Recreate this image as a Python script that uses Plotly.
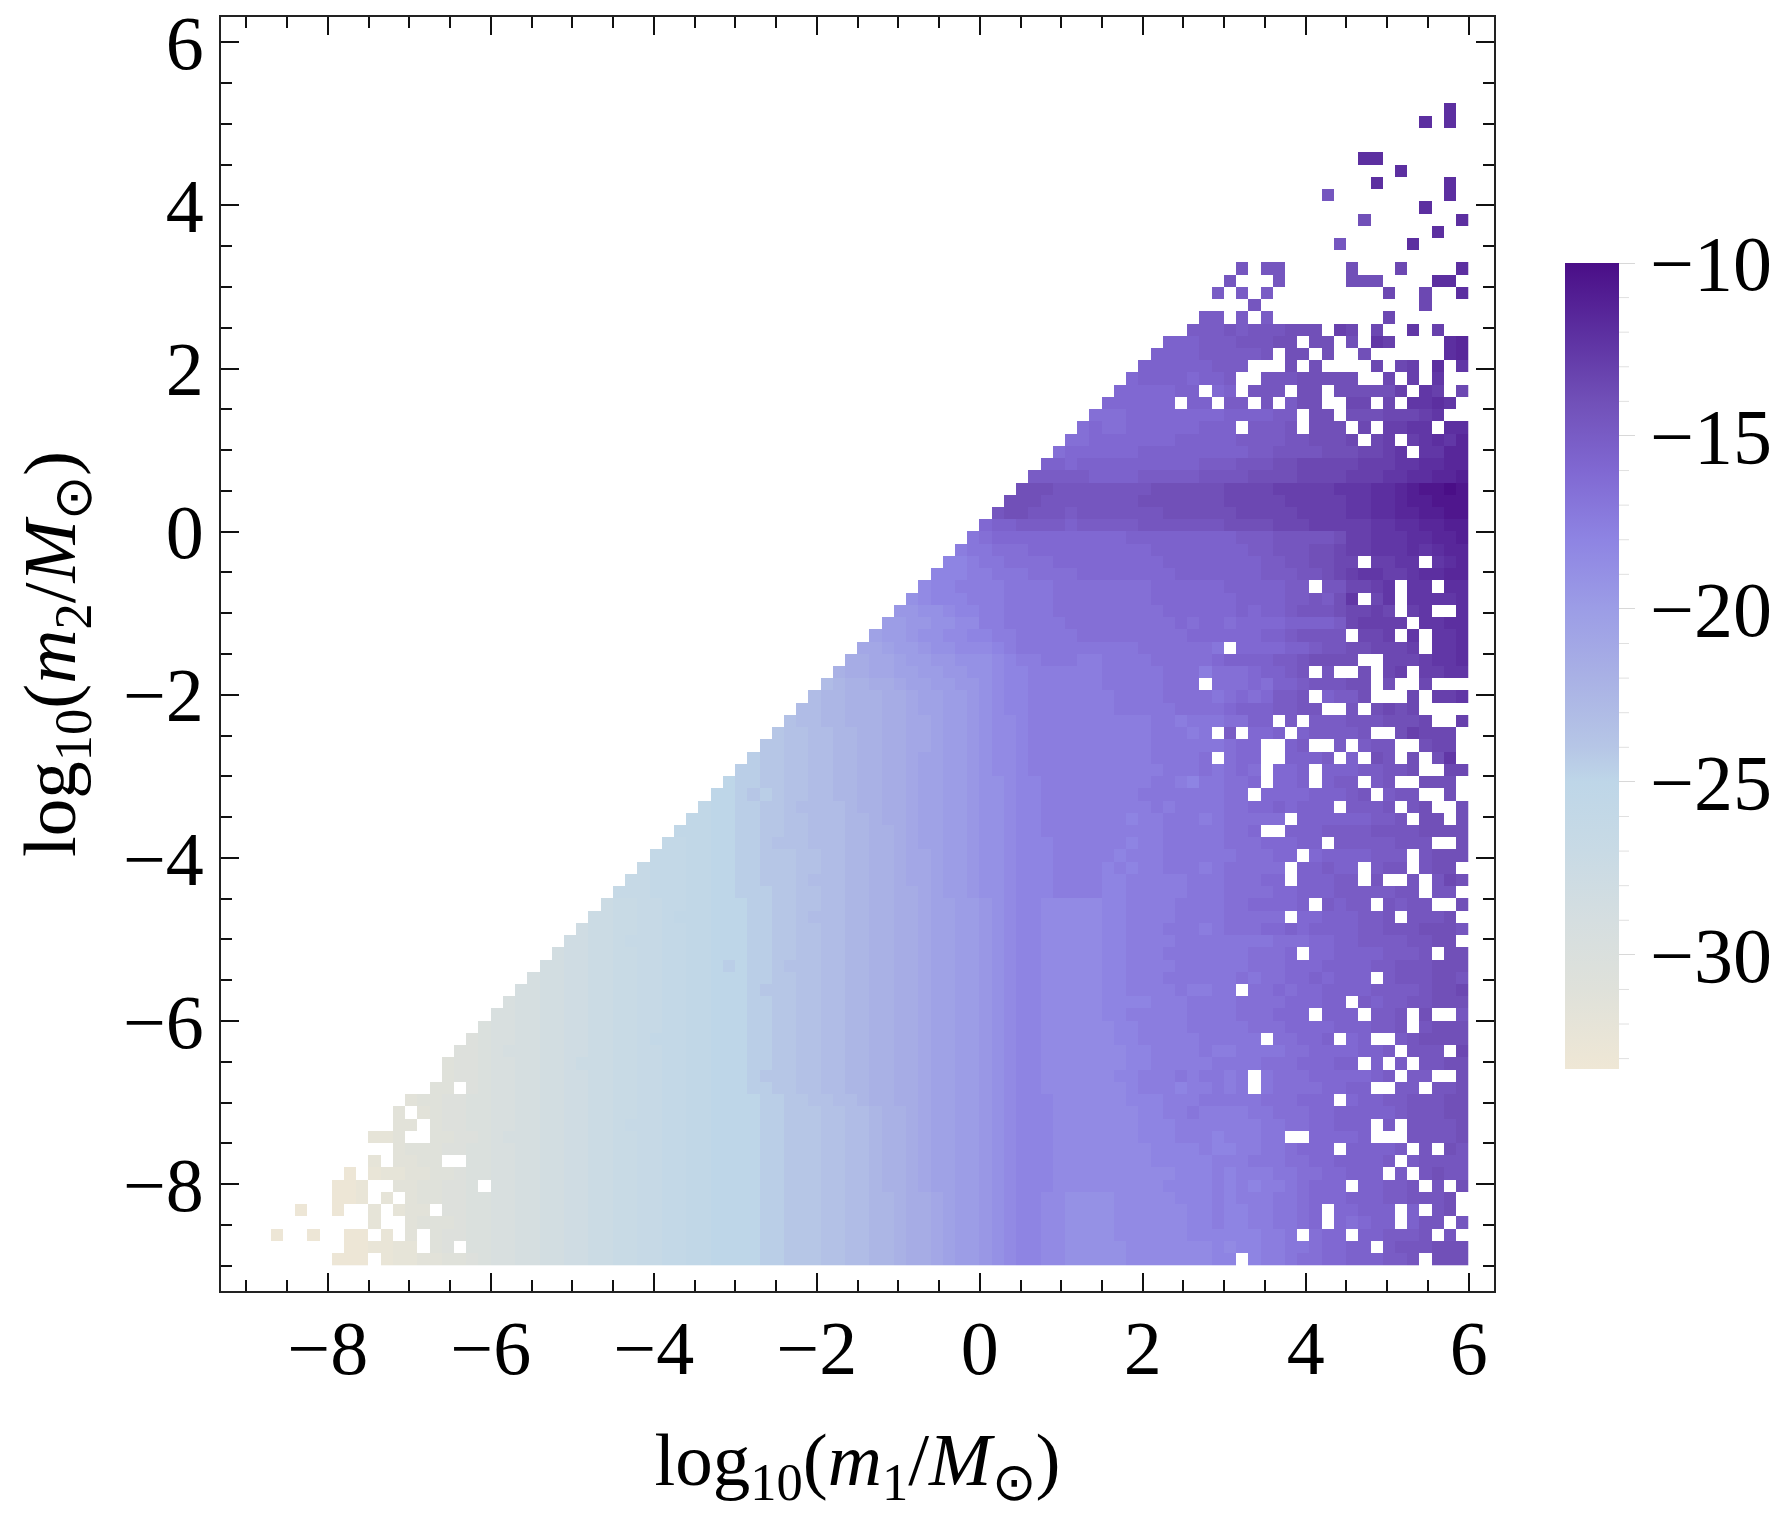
import plotly.graph_objects as go

# Level letters: A = -33.5, each next letter is +0.5 (v = -10). "." = empty cell.
LEVELS = "ABCDEFGHIJKLMNOPQRSTUVWXYZabcdefghijklmnopqrstuvwxyz"
BINS = 100
BIN_WIDTH = 0.15
AXIS_START = -9.0

# Each row (key = m2 bin, counted from the bottom) is read right-anchored at bin 99, in groups of 10 bins.
ROWS = {
94: "........r.",
93: "......r.r.",
90: ".rr.......",
89: "....r.....",
88: "..r.....r.",
87: "........m. ........r.",
86: "......r...",
85: ".n.......r",
84: ".......r..",
83: ".........m .....r....",
81: ".m.mm..... n...o....r",
80: "m...m..... nnn....rr.",
79: ".........l .l.l...... ...o..o..r",
78: "..m....... ......o...",
77: "........ll .l.l...... ...o......",
76: ".......lll mlmmmnnn.p o.o..q.p..",
75: ".....kkkll lmmmnn.nn. n.qp....rs",
74: "....kkkkll lllm.nn.n. .n......rs",
73: "...kkkkkkl ll...n.n.. ..o.op.r.q",
72: "..jkkkkjkk l..mmmnnnn n..o.p.q..",
71: ".jjjjjkk.j k.mmm.nn.n nnnnp.qp.o",
70: "jjjjjj.kk. ll.m.lnn.. oo.o.qqrq.",
69: ".........i iijjjjjjjj kkkkll.nn. nnnooopq..",
68: "........ij iijjjjjjkk k.lllm.nnn .o.ppqq.rr",
67: ".......iij jjjjjjkkkk kllllmmnnn o.op.pqrqs",
66: "......ijjj jjjkkkkkkk kkllmmmmnn noopq.qqss",
65: ".....kkjkk kkkkkkkkll lmmmnnoooo opppqqrrss",
64: "....lllllk kkklllllmm mmnnnnoooo pppqqrrsst",
63: "...nnnmmmm mmmmnnnnnn oooopppppq qqrrstuuvu",
62: "..nnnmmmmm mmmnnnnnnn oooooppppp qqrrsttuuu",
61: ".mnnmmmlmm mmmmmnnnnn nooooopppp qqrrssttuu",
60: "jkkllllkll lllmmmmmmm nnnnoooppp ppqqrrsstt",
59: ".........h ijjjjjjjjj jjkkkkkkkk klllmmmmmn ppqqqrrsst",
58: "........gh hiiijjjjjj jjjjkkkkkk kkllmmmnno ppqqqrqrss",
57: ".......ffg hhiiiijjjj jjjjjkkkkk kkkllmmnno o.ppqq.qrs",
56: "......fffg ghhhiiiijj jjjjjjkkkk kkklllmmno pqqppqrrss",
55: ".....effgg gghhhhiiii iiiijjjjjj kkkkkll.mm oopq.qq.rr",
54: "....defffg gghhhhiiii iiiijjjjjj jkkkkllmln q.oq.qqqqr",
53: "...ccddeff gghhhhiiii iiiiijjjjj jkjkklmmmn oopo.pq..r",
52: "..bbccddee gghhhhhiii iiiiiijijj ijjjjkkkkl opppp.qqrr",
51: ".abbcddeef fgghhhhhii iiiiiiijjj jjjkklmmmm .oop.q.qqr",
50: "ZZabbcddee efghhhhhhh hhhiiiiiih .jjjjkklmm nnooop.qqr",
49: ".........Y YZZabbccdd defgghhhgg hhhhiiiiij kkkkllmnnn n..ooopqqr",
48: "........XY YZZaabbccd deffgggggg hhhhhiiigi iijkklm.m. .n.op.ppqq",
47: ".......VWX XYYZaabbcc deffgggggg hhhhhiii.i iijikklmmm nn.n..o...",
46: "......VWWX XXYYZaabbc deffgggggg ghhhhiiiih ijijllm.kl ln...o.ppq",
45: ".....VVWWX XXYYZaabbc deffgggggg ghhhhhiiii jkkkllmm.. m.nono....",
44: "....UVVWWX XXYYZZabbc deefgggggg gggghhghhh iikk.l.lll mmmnnno..p",
43: "...TUUVVWW XXYYZZabbc deefgggggg gggghhhgh. l.jjk.klll lm..npooo.",
42: "..TTUUVVWW XXYYZZabbc deefgggggg gggghhhhhh ijj..kl..l .lmm..noo.",
41: ".STTUUVVWW XXYYZaabbc deefgggggg gggghhhhi. ijj..kkkl. k.nm.n.nq.",
40: "SSTTUUVVWW XXYYZaabbc deefgggggg ggggghhhih iji.jjk.kk kllmmn..oo",
39: ".........R SSTTUUVVWW XXYYZaabbc ddeffggggg gggghhgfhh iij.jjk.kl l.lm..nnn.",
38: "........RR STSTUUVVWW XXYYZaabbc ddeffggggg ggghhhhhhh ii.jjjjkkk lm.lmm..n.",
37: ".......QRR SSTTUVVVVW XXYYZaabbc ddeffggggg gggghghhhh iijjkjkkk. lllm.mn..n",
36: "......QQRR SSTTUUVVVW WXYYZaabbc ddeffggggg ggfgghhhgh iiiii.kkkk kkllm.nn.n",
35: ".....QQQRR SSTTUUVVVW WXXYZaabbc ddeffggggg ggggghhhhh iij..kkkll llmmmmnnnn",
34: "....PPQQRR SSTUUUVVVW WXXYZaabbc ddefffgggg ggfgghhhhh iiijjjkk.l llllmmm..n",
33: "...PPPQQRR SSTTTUUVVW WXXYZZabbc ddefffgggg gfggghhhhh hiiijj.jkk kklll.mnnn",
32: "..OPPPQQRR SSTTTUUVVW WXXYZZabbc ddefffgggg fgfgghhhgh iiiii.kklk k.lmm.mnn.",
31: ".OOPPPQQRR SSTTTUVVVW WXXYZZabbc ddefffgggg ffggggghhh iiijj.kkkl l.m..m.mon",
30: "OOOPPPQQRR SSSTTUUVVW WXXYYZabbc ddefffgggg ffggggghhh iiiijjkkkl llllmm.mm.",
29: ".........M NNOOPPQQRR RSSTTUUVVW WXXYYZaabb cdeffeeeee ffgggghhhh iijjjjk.lk ll.mlmm..n",
28: "........MM NNOOPQQQRR RSSTTUVVVW WXXYYZaabb cdeffeeeee ffgggghhhh iiiii.jjkk kllm.mmmn.",
27: ".......LMM NNOOPPQQRR RSSTTUUVVW WXXYYZaabb cdeffeeeee ffggghhhgh iiijjkjkkk kllmmmnnnm",
26: "......LLMM NOOOPPQQRR RSSTTUUVVW WXXYYZaabb cdeffeeeee ffgggghhhh hhhhiiijjk kllllmmnn.",
25: ".....KLLMM NNOOPPQQRR RSSTTUUVVW WXXYYZaabb cdeffeeeee ffggghhhhh hhiiij.jjk kkklllm.nn",
24: "....KKLLMM NNOOPPQQRS RSSTUUUVVW WXXYYZaabb cdeffeeeee ffgggghhhh hhiiijjjkk kkllmmmnnn",
23: "...JKKLLMM NNOOPPQQRR RSSTTUUVVW WXXYYZaabb cdeffeeeee ffggghhhhh hihiijjkjk kk.lmmmnnm",
22: "..JJKKLLMM NNOOPPQQRR RSTTTUUVVW WXXYYZaabb cdeffeeeee ffgggghggh h.iijijjkk kkllllmnno",
21: ".IJJKKLLMM NNOOPPQQRR RSSTTUUVVW WXXYYZaabb cdeffeeeee ffffggghhh hiiiijjjkk .lkllmmnnn",
20: "IIJJKKLLMM NNOOPPQQRR RSSTTUUVVW WXXYYZaabb cdeffeeeee ffggggghhh hiiijjj.kk k.llm.n..m",
19: ".........H IIJJKKLLMM NNOOPPQQRR RSSTTUUVVW WXXYYZaabb cdeffeeeee effgggghhh hhiiijjjjk kkllm.mnnn",
18: "........GH IIJJKKLLMM NNOPPPQQRR RSSTTUUVVW WXXYYZaabb cdeffeeeee effggggghh hhh.iijjk. jk..lmnnnn",
17: ".......GGH IJJJKKLLMM NNOOPPQQRR RSSTTUUVVW WXXYYZaabb cdeffeeeee eeffgggghg ghhhhiijjj jkkl.mmm.o",
16: "......FGGH IIJJKKLMMM NNOOPPQQRR RSSTTUUVVW WXXYYZaabb cdeffeeeee eeffgggggh hhhiiijjjk k.k.l.mmnn",
15: "......FGGH IIJJKKLLMM NNOOPPQQRR RSTTTUUVVW WXXYYZaabb cdeffeeeee effggghghh gh.hiiijjj jjkl.ll..n",
14: ".....FF.GH IIJJKKLLMM NNOOPPQQRR RSSTTUUVVW WXXYYZaabb cdeffeeeee eefgggfggh gh.hiiiijj kk..ll.mmn",
13: "...EFFGGHH IIJJKKLLMM NNOOPPQQRR RRSSTTUUVV WXXYYZaabb cdefffeeee eefffggghh hhhiiijjj. jkkllmmmnn",
12: "..E.EFGGHH IIJJKKLLMM NNOOPPQQRR RRSSTTTUUV VWXXYZaabb cdefffeeee eeeffgghgg gghhiiijjk kkkklmmmnn",
11: "..EE.FGGHH IIJJKKLLMM NOOOPPQQRR RRSSTTTUUV VWXXYZaabb cdefffeeee eeefffgggg ggghhiijjk kk.l.mmmmn",
10: "DDE..FFGGH IJJJKKLLMM NNOOPPQQRR RRSSTTTUUV VWXXYZaabb cdefffeeee eeefffgggf ggghh..jjj jk...mmmmn",
9: "..EFFFGGHH IIJJKKLLMM NNOOPPQQRR RRSSTTTUUV VWXXYZaabb cdefffeeee eeeeffffgf fgghhijjj. kkkkl.m.nm",
8: "D.EEFF..HH IIJJKKLLMM NNOOPPQQRR RRSSTTTUUV VWXXYZaabb cdefffeeee eeeefffffg gghhhiijjk kkkl.lmmmm",
7: "........B. CDDEEFFGHH IIJJKKLLMM NNOOPPQQRR RRSSTTTUUV VWXXYZaabb cdefffeeee eeeeeefffg fggghhiijj kkk.l.mnmm",
6: ".......BBC ..EEFFGGH. IIJJKKLLMM NNOOPPQQRR RRSSTTTUUV VWXXYZaabb cdefffeeee eeeeeffffg fgfgghijjj .kkllm.m.n",
5: ".......BBC .D.EFFGGHH IIJJKKLLMM NNOOPPQQRR RRSSTTTUUV VWWXYYZabb cdeffeeddd deeeeefffg fggghhijjj kkkllmmmn.",
4: "....B..B.. D.DEE.GGHH IIJJKKLLMM NNOOPPQQRR RRSSTTTUUV VWWXYYZabb cdeffeeddd deeeeeeffg ffgghhij.j jkkk.k.mn.",
3: "D..EFFFGHH IIJJKKLLMM NNOOPPQQRR RRSSTTTUUV VWWXYYZabb cdeffeeddd deeeeeeffg ffgghhij.j ijkk.kmm.m",
2: "..B..B..BB .C.E.FGGHH IIJJKKLLMM NNOOPPQQRR RRSSTTTUUV VWWXYYZabb cdeffeeddd deeeeeefff fffggh.ijj .kklllm.m.",
1: "........BB CCDD.FG.HH IIJJKKLLMM NNOOPPQQRR RRSSTTTUUV VWWXYYZabb cdeffeeddd ddeeeeeeef effgghhijj kk.lmmmnnn",
0: ".......BBB .CDDEEFFGH IIJJKKLLMM NNOOPPQQRR RRSSTTTUUV VWWXYYZabb cdeffeeddd ddeeeeeeef f.fgghiijj kkkllm.nnn",
}

COLOR_VALUES = [-33.3, -31, -29, -27, -25, -24, -22, -20, -18, -16, -14, -12, -10]
COLOR_HEX = ["#efe7d5", "#dfe1da", "#d5dee0", "#c8dae5", "#bed6e8", "#b6c6e6", "#a9b1e5",
             "#9c9de6", "#8e84e3", "#8068d2", "#7150b8", "#5c2fa0", "#4a0e87"]
AXIS_TICKS = [-8, -6, -4, -2, 0, 2, 4, 6]
COLORBAR_TICKS = [-30, -25, -20, -15, -10]
COLORBAR_MINOR = [v for v in range(-33, -10) if v % 5]
XLABEL = "log<sub>10</sub>(<i>m</i><sub>1</sub>/<i>M</i><sub>\u2299</sub>)"
YLABEL = "log<sub>10</sub>(<i>m</i><sub>2</sub>/<i>M</i><sub>\u2299</sub>)"

FONT = "Liberation Serif"
W, H = 1779, 1516
# plot area and colour bar in page pixels (the page body adds 8 px on the left and top)
L, R, T, B = 213, 1486, 9, 1283
BAR_L, BAR_R, BAR_T, BAR_B = 1557, 1611, 255, 1061

centers = [AXIS_START + BIN_WIDTH * (i + 0.5) for i in range(BINS)]
z = []
for r in range(BINS):
    s = ROWS.get(r, "").replace(" ", "").rjust(BINS, ".")
    z.append([None if ch == "." else -33.5 + 0.5 * LEVELS.index(ch) for ch in s])

zmin, zmax = COLOR_VALUES[0], COLOR_VALUES[-1]
scale = [[(v - zmin) / (zmax - zmin), c] for v, c in zip(COLOR_VALUES, COLOR_HEX)]
px = lambda x: (x - L) / (R - L)
py = lambda y: (B - y) / (B - T)

fig = go.Figure(go.Heatmap(
    x=centers, y=centers, z=z, zmin=zmin, zmax=zmax, colorscale=scale, hoverongaps=False,
    colorbar=dict(
        x=px(BAR_L), y=py(BAR_T), xanchor="left", yanchor="top",
        thicknessmode="pixels", thickness=BAR_R - BAR_L, lenmode="pixels", len=BAR_B - BAR_T, xpad=0, ypad=0,
        outlinewidth=0, tickmode="array", tickvals=COLORBAR_TICKS,
        ticktext=[str(v).replace("-", "\u2212") for v in COLORBAR_TICKS],
        ticks="outside", ticklen=16, tickwidth=1, tickcolor="#d8d8d8",
        tickfont=dict(family=FONT, size=78, color="black"),
    ),
))

axis = dict(
    tickmode="array", tickvals=AXIS_TICKS, ticktext=[str(t).replace("-", "\u2212") for t in AXIS_TICKS],
    ticks="inside", ticklen=18, tickwidth=2, tickcolor="#111", showline=True, linecolor="#222", linewidth=2,
    mirror="ticks", showgrid=False, zeroline=False, automargin=False, ticklabeloverflow="allow",
    tickfont=dict(family=FONT, size=76, color="black"),
    minor=dict(tickmode="linear", tick0=0, dtick=0.5, ticks="inside", ticklen=11, tickwidth=2,
               tickcolor="#111", showgrid=False),
    range=[-9.31, 6.31],
)
minor_ticks = [dict(type="line", xref="paper", yref="paper", x0=px(BAR_R), x1=px(BAR_R + 10),
                    y0=py(BAR_T + (zmax - v) / (zmax - zmin) * (BAR_B - BAR_T)),
                    y1=py(BAR_T + (zmax - v) / (zmax - zmin) * (BAR_B - BAR_T)),
                    line=dict(color="#e0e0e0", width=1)) for v in COLORBAR_MINOR]
fig.update_layout(
    width=W, height=H, autosize=False, plot_bgcolor="white", paper_bgcolor="white",
    margin=dict(l=L, r=W - R, t=T, b=H - B, autoexpand=False),
    shapes=minor_ticks,
    xaxis=dict(axis, ticklabelstandoff=-10,
               title=dict(text=XLABEL, font=dict(family=FONT, size=75, color="black"), standoff=43)),
    yaxis=dict(axis, title=dict(text=YLABEL, font=dict(family=FONT, size=75, color="black"), standoff=36)),
)
fig.write_html("out.html")
